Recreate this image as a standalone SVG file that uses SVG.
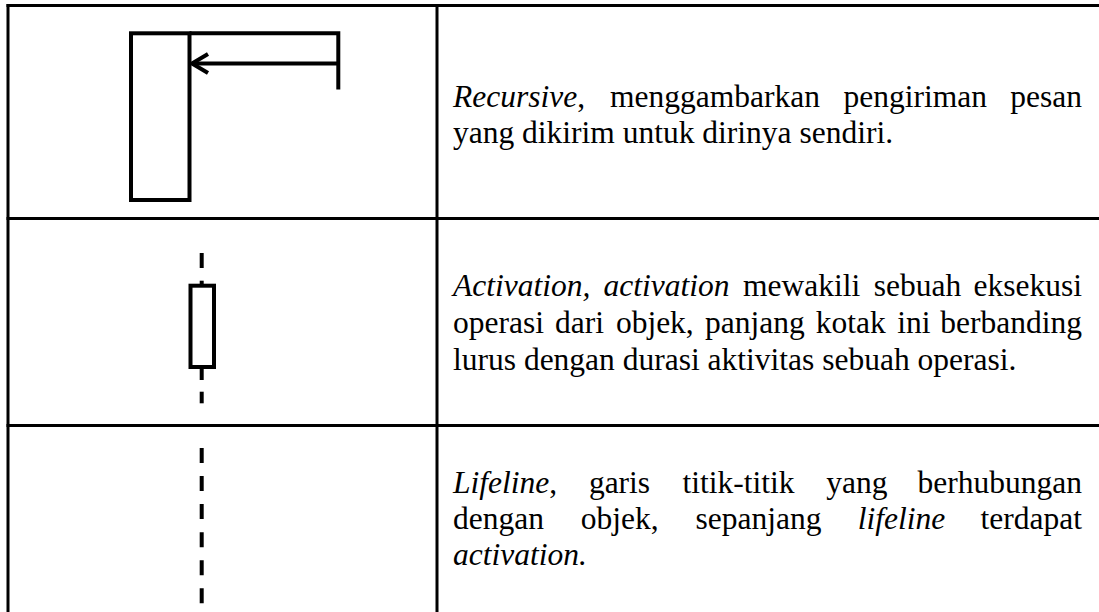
<svg xmlns="http://www.w3.org/2000/svg" width="1099" height="612" viewBox="0 0 1099 612">
  <style>
    .grid { stroke: #000; stroke-width: 3; fill: none; }
    .sym { stroke: #000; stroke-width: 4; fill: none; }
    .dash { stroke: #000; stroke-width: 4; }
    .txt { font-family: "Liberation Serif", "Times New Roman", serif; font-size: 31.5px; fill: #000; }
    .it { font-style: italic; }
  </style>
  <defs>
    <!-- open "<" head, tip sits on the end of the message line -->
    <marker id="open-arrow" markerWidth="22" markerHeight="26" refX="18" refY="13" orient="auto" markerUnits="userSpaceOnUse">
      <path d="M2,3.5 L18,13 L2,22.5" fill="none" stroke="#000" stroke-width="4"/>
    </marker>
  </defs>
  <rect width="1099" height="612" fill="#fff"/>

  <!-- table grid -->
  <g id="table">
    <line class="grid" x1="6.5" y1="5.5" x2="1099" y2="5.5"/>
    <line class="grid" x1="8" y1="4" x2="8" y2="612"/>
    <line class="grid" x1="437" y1="4" x2="437" y2="612"/>
    <line class="grid" x1="6.5" y1="218.5" x2="1099" y2="218.5"/>
    <line class="grid" x1="6.5" y1="425.5" x2="1099" y2="425.5"/>
  </g>

  <!-- row 1: recursive message -->
  <g id="recursive">
    <rect class="sym" x="131" y="33.3" width="58.5" height="166.7"/>
    <polyline class="sym" points="189.5,33.3 338.3,33.3 338.3,89.5"/>
    <text class="txt" y="107">
      <tspan x="453" class="it">Recursive</tspan><tspan>,</tspan>
      <tspan x="610">menggambarkan</tspan>
      <tspan x="843.5">pengiriman</tspan>
      <tspan x="1082" text-anchor="end">pesan</tspan>
    </text>
    <text class="txt" x="453" y="143">yang dikirim untuk dirinya sendiri.</text>
  </g>

  <!-- row 2: activation -->
  <g id="activation">
    <line class="dash" x1="201.7" y1="253" x2="201.7" y2="268"/>
    <line class="dash" x1="201.7" y1="280.7" x2="201.7" y2="285.7"/>
    <rect class="sym" x="190.5" y="285.7" width="23.5" height="81.3" stroke-width="3.5"/>
    <line class="dash" x1="201.7" y1="367" x2="201.7" y2="380"/>
    <line class="dash" x1="201.7" y1="391.7" x2="201.7" y2="403.3"/>
    <text class="txt" y="296">
      <tspan x="453" class="it">Activation, </tspan>
      <tspan x="603.6" class="it">activation</tspan>
      <tspan x="743">mewakili</tspan>
      <tspan x="873.8">sebuah</tspan>
      <tspan x="1082" text-anchor="end">eksekusi</tspan>
    </text>
    <text class="txt" y="333">
      <tspan x="453">operasi</tspan>
      <tspan x="555.1">dari</tspan>
      <tspan x="615.9">objek,</tspan>
      <tspan x="705.1">panjang</tspan>
      <tspan x="815.8">kotak</tspan>
      <tspan x="897.3">ini</tspan>
      <tspan x="1082" text-anchor="end">berbanding</tspan>
    </text>
    <text class="txt" x="453" y="370">lurus dengan durasi aktivitas sebuah operasi.</text>
  </g>

  <!-- row 3: lifeline -->
  <g id="lifeline">
    <line class="dash" x1="201.7" y1="448" x2="201.7" y2="603.3" stroke-dasharray="15 13.06"/>
    <text class="txt" y="493">
      <tspan x="453" class="it">Lifeline</tspan><tspan>,</tspan>
      <tspan x="588.9">garis</tspan>
      <tspan x="682.6">titik-titik</tspan>
      <tspan x="826.3">yang</tspan>
      <tspan x="1082" text-anchor="end">berhubungan</tspan>
    </text>
    <text class="txt" y="529">
      <tspan x="453">dengan</tspan>
      <tspan x="580.7">objek,</tspan>
      <tspan x="695.5">sepanjang</tspan>
      <tspan x="857.7" class="it">lifeline</tspan>
      <tspan x="1082" text-anchor="end">terdapat</tspan>
    </text>
    <text class="txt it" x="453" y="565">activation.</text>
  </g>

  <!-- message arrow of the recursive call -->
  <g id="connectors">
    <line class="sym" x1="338.3" y1="63.5" x2="192" y2="63.5" marker-end="url(#open-arrow)"/>
  </g>
</svg>
